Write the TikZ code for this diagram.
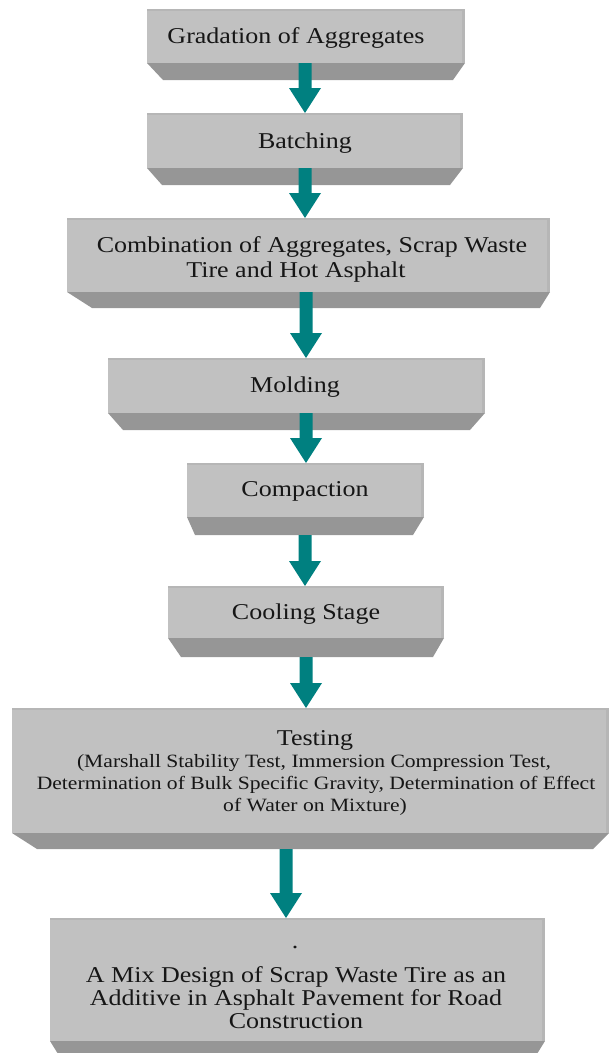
\documentclass[tikz,border=0pt]{standalone}
\usepackage{fontspec}
\usepackage{graphicx}
\setmainfont{Liberation Serif}
\usetikzlibrary{calc}
\definecolor{facegray}{RGB}{193,193,193}
\definecolor{bevelgray}{RGB}{150,150,150}
\definecolor{edgegray}{RGB}{182,182,182}
\definecolor{arrowteal}{RGB}{0,128,128}
\definecolor{inkgray}{RGB}{22,22,22}
\newcommand{\sq}[1]{\scalebox{1}[0.87]{#1}}
% #1 name, #2 x left, #3 x right, #4 y top, #5 y face bottom, #6 y bevel bottom, #7 left inset, #8 right inset
\newcommand{\slab}[8]{%
  \fill[bevelgray] (#2,-#5) -- (#3,-#5) -- ({#3-#8},-#6) -- ({#2+#7},-#6) -- cycle;
  \node[face, minimum width={#3-#2}, minimum height={#5-#4}, anchor=north west] (#1) at (#2,-#4) {};
  \fill[edgegray] (#1.north west) rectangle ($(#1.north east)+(0,-2)$);
  \fill[edgegray] ($(#1.north east)+(-3,0)$) rectangle (#1.south east);
}
% #1 start coordinate, #2 tip coordinate (same x)
\newcommand{\blockarrow}[2]{%
  \fill[arrowteal] ($(#1)+(-6.5,0)$) -- ($(#2)+(-6.5,25)$) -- ($(#2)+(-16,25)$) -- (#2)
    -- ($(#2)+(16,25)$) -- ($(#2)+(6.5,25)$) -- ($(#1)+(6.5,0)$) -- cycle;
}
\begin{document}
\begin{tikzpicture}[x=1pt,y=1pt,
  face/.style={fill=facegray, draw=none, inner sep=0pt, outer sep=0pt},
  lbl/.style={anchor=base, inner sep=0pt, font=\fontsize{26}{23}\selectfont, text=inkgray},
  slbl/.style={anchor=base, inner sep=0pt, font=\fontsize{21.6}{21}\selectfont, text=inkgray}]
\useasboundingbox (0,0) rectangle (611,-1053);

% boxes
\slab{f1}{147}{465}{9}{63}{80}{16}{12}
\slab{f2}{147}{463}{113}{168}{185}{15}{13}
\slab{f3}{67}{550}{218}{292}{308}{25}{10}
\slab{f4}{108}{485}{358}{413}{430}{15}{15}
\slab{f5}{187}{424}{463}{517}{535}{8}{11}
\slab{f6}{168}{444}{586}{638}{657}{13}{11}
\slab{f7}{12}{609}{708}{833}{849}{25}{16}
\slab{f8}{50}{545}{918}{1041}{1062}{13}{13}

% texts
\node[lbl] (t1) at (296,-43) {\sq{Gradation of Aggregates}};
\node[lbl] (t2) at (305,-148) {\sq{Batching}};
\node[lbl] (t3a) at (312,-252) {\sq{Combination of Aggregates, Scrap Waste}};
\node[lbl] (t3b) at (296,-277) {\sq{Tire and Hot Asphalt}};
\node[lbl] (t4) at (295,-392) {\sq{Molding}};
\node[lbl] (t5) at (305,-496) {\sq{Compaction}};
\node[lbl] (t6) at (306,-619) {\sq{Cooling Stage}};
\node[lbl] (t7a) at (315,-745) {\sq{Testing}};
\node[slbl] (t7b) at (314,-767) {\sq{(Marshall Stability Test, Immersion Compression Test,}};
\node[slbl] (t7c) at (316,-789) {\sq{Determination of Bulk Specific Gravity, Determination of Effect}};
\node[slbl] (t7d) at (315,-811) {\sq{of Water on Mixture)}};
\node[lbl] (t8a) at (295,-948) {\sq{.}};
\node[lbl] (t8b) at (296,-982) {\sq{A Mix Design of Scrap Waste Tire as an}};
\node[lbl] (t8c) at (296,-1005) {\sq{Additive in Asphalt Pavement for Road}};
\node[lbl] (t8d) at (296,-1028) {\sq{Construction}};

% arrows
\path (f1.south) ++(-1,0) coordinate (s1);
\coordinate (e1) at (s1 |- f2.north);
\blockarrow{s1}{e1}
\path (f2.south) ++(0,0) coordinate (s2);
\coordinate (e2) at (s2 |- f3.north);
\blockarrow{s2}{e2}
\path (f3.south) ++(-2.5,0) coordinate (s3);
\coordinate (e3) at (s3 |- f4.north);
\blockarrow{s3}{e3}
\path (f4.south) ++(9.5,0) coordinate (s4);
\coordinate (e4) at (s4 |- f5.north);
\blockarrow{s4}{e4}
\path (f5.south) ++(-0.5,-18) coordinate (s5);
\coordinate (e5) at (s5 |- f6.north);
\blockarrow{s5}{e5}
\path (f6.south) ++(0,-19) coordinate (s6);
\coordinate (e6) at (s6 |- f7.north);
\blockarrow{s6}{e6}
\path (f7.south) ++(-24.5,-16) coordinate (s7);
\coordinate (e7) at (s7 |- f8.north);
\blockarrow{s7}{e7}
\end{tikzpicture}
\end{document}
